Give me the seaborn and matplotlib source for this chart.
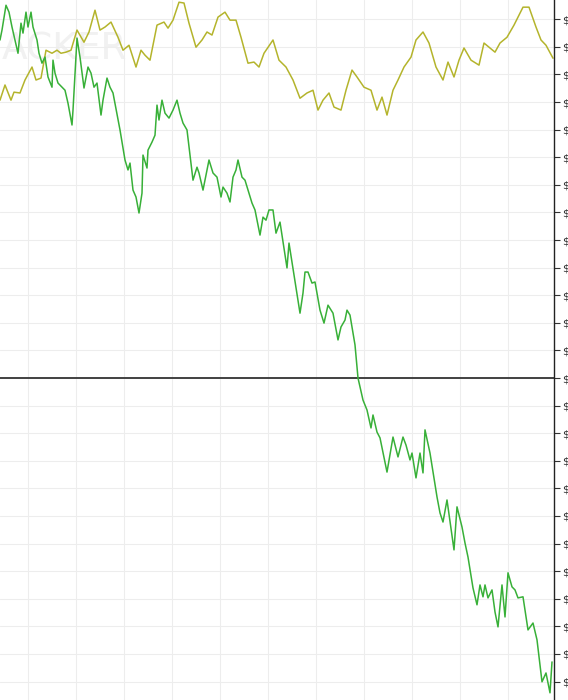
import pandas as pd
import numpy as np
import seaborn as sns
import matplotlib.pyplot as plt
from matplotlib.ticker import MultipleLocator

# green series (trading day, value)
green_days = [20, 22, 26, 29, 32, 35, 38, 41, 43, 46, 48, 51, 53, 57, 59, 62, 65, 68, 72, 73,
              75, 78, 82, 85, 88, 92, 93, 97, 100, 104, 108, 111, 114, 117, 121, 123, 127, 130,
              133, 140, 145, 148, 150, 153, 156, 159, 162, 163, 167, 168, 172, 175, 177, 179,
              182, 185, 189, 193, 197, 200, 203, 207, 213, 217, 219, 223, 227, 229, 233, 237,
              241, 243, 247, 250, 253, 256, 258, 262, 265, 268, 272, 275, 280, 283, 286, 289,
              293, 296, 300, 307, 309, 320, 323, 325, 328, 332, 335, 340, 344, 348, 353, 358,
              361, 365, 367, 370, 375, 378, 383, 387, 391, 393, 397, 400, 407, 413, 418, 423,
              426, 430, 432, 436, 440, 443, 445, 450, 457, 460, 463, 467, 474, 477, 482, 485,
              488, 493, 497, 500, 503, 505, 508, 512, 515, 518, 522, 525, 528, 532, 535, 538,
              543, 548, 553, 557, 562, 566, 570, 572]
green_vals = [1225, 1261, 1351, 1326, 1272, 1225, 1177, 1286, 1250, 1326, 1272, 1326, 1272,
              1225, 1177, 1141, 1163, 1091, 1054, 1152, 1105, 1069, 1054, 1043, 996, 917, 971,
              1232, 1163, 1051, 1127, 1105, 1054, 1069, 953, 1007, 1087, 1054, 1033, 899, 790,
              754, 779, 681, 656, 598, 670, 808, 761, 826, 855, 880, 989, 935, 1007, 960, 942,
              971, 1007, 960, 924, 899, 717, 764, 743, 681, 754, 790, 743, 728, 656, 692, 670,
              638, 728, 754, 790, 728, 717, 681, 634, 609, 518, 583, 572, 609, 609, 525, 565,
              399, 489, 235, 308, 384, 384, 344, 348, 246, 199, 264, 235, 138, 185, 210, 246,
              228, 120, 0, -80, -116, -181, -134, -196, -217, -341, -214, -286, -214, -243,
              -297, -272, -362, -272, -344, -188, -272, -431, -489, -522, -442, -623, -467,
              -540, -598, -649, -761, -822, -750, -793, -750, -797, -768, -848, -902, -750,
              -866, -706, -757, -768, -797, -793, -913, -888, -949, -1101, -1069, -1141, -1029]

# olive series (trading day, value)
olive_days = [20, 25, 31, 34, 40, 45, 52, 56, 61, 66, 72, 77, 81, 86, 91, 97, 104, 109, 115,
              120, 125, 131, 138, 143, 149, 156, 161, 165, 170, 177, 184, 188, 193, 199, 204,
              209, 216, 222, 227, 232, 238, 245, 250, 256, 261, 268, 274, 279, 284, 293, 299,
              306, 313, 320, 327, 333, 338, 343, 349, 354, 361, 366, 372, 377, 384, 391, 397,
              402, 407, 413, 418, 424, 431, 436, 443, 449, 456, 463, 468, 474, 479, 484, 491,
              499, 504, 509, 515, 520, 527, 534, 543, 549, 556, 561, 566, 573]
olive_vals = [1007, 1062, 1007, 1036, 1033, 1080, 1127, 1080, 1087, 1188, 1177, 1188, 1177,
              1181, 1188, 1261, 1217, 1254, 1333, 1261, 1272, 1290, 1235, 1188, 1206, 1127,
              1188, 1170, 1152, 1279, 1290, 1268, 1297, 1362, 1359, 1286, 1199, 1225, 1254,
              1243, 1308, 1326, 1297, 1297, 1235, 1141, 1145, 1127, 1177, 1225, 1152, 1127,
              1080, 1014, 1033, 1043, 971, 1007, 1033, 982, 971, 1043, 1116, 1091, 1054, 1043,
              971, 1018, 953, 1043, 1080, 1127, 1163, 1225, 1254, 1214, 1127, 1080, 1145, 1091,
              1152, 1196, 1152, 1134, 1214, 1199, 1181, 1214, 1235, 1279, 1344, 1344, 1272,
              1225, 1206, 1159]

green_df = pd.DataFrame({'day': green_days, 'value': green_vals})
olive_df = pd.DataFrame({'day': olive_days, 'value': olive_vals})

sns.set_style('whitegrid', {'grid.color': '#ededed'})

fig = plt.figure(figsize=(5.68, 7.0), dpi=100)
ax = fig.add_axes([0, 0, 554 / 568, 1])

# faint watermark behind the lines
ax.text(0.003, 0.955, 'ACKER', transform=ax.transAxes, fontsize=27,
        color='#f1f1f1', va='top', ha='left', zorder=0)

sns.lineplot(data=olive_df, x='day', y='value', color='#b4b42c', linewidth=1.1, ax=ax)
sns.lineplot(data=green_df, x='day', y='value', color='#38b038', linewidth=1.1, ax=ax)
ax.axhline(0, color='#333333', linewidth=1.3, zorder=1)

ax.set_xlim(20, 574)
ax.set_ylim(-1167, 1370)
ax.xaxis.set_major_locator(MultipleLocator(48))
ax.yaxis.set_major_locator(MultipleLocator(100))
ax.set_xticklabels([])
ax.tick_params(axis='x', length=0)
ax.yaxis.tick_right()
ax.tick_params(axis='y', length=4, width=0.8, color='#333333', labelsize=8,
               labelcolor='#333333', pad=2)
ax.yaxis.set_major_formatter(plt.FuncFormatter(lambda v, p: '$'))
ax.set_xlabel('')
ax.set_ylabel('')
ax.grid(True, color='#ededed', linewidth=0.8)

for s in ['top', 'left', 'bottom']:
    ax.spines[s].set_visible(False)
ax.spines['right'].set_color('#222222')
ax.spines['right'].set_linewidth(1.0)

fig.savefig('out.png', dpi=100)
